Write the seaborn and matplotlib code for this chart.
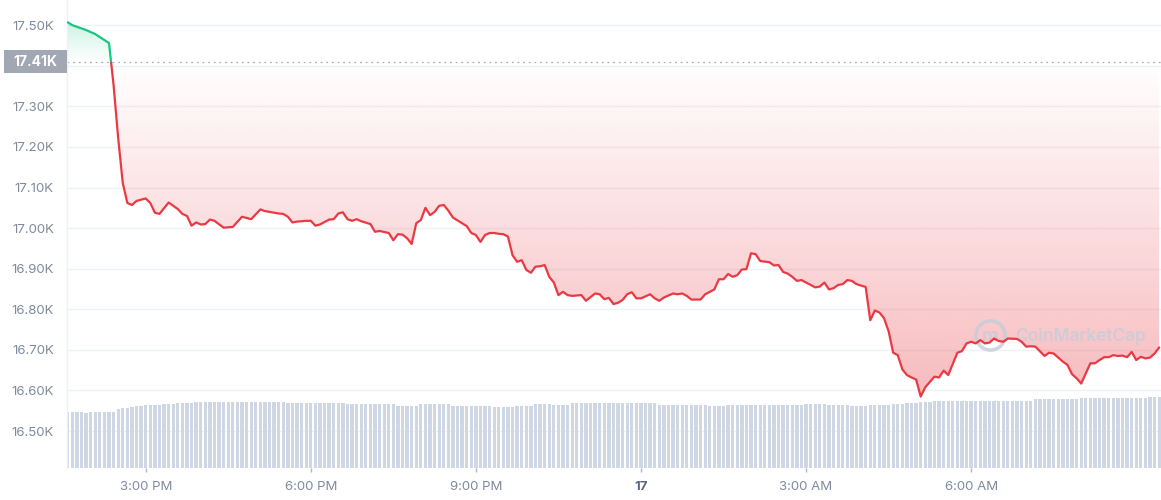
import numpy as np
import matplotlib
matplotlib.use("Agg")
import matplotlib.pyplot as plt
import seaborn as sns
from matplotlib import transforms
from matplotlib.patches import Rectangle

# ---------------- data ----------------
# index of the 5-minute candle after 13:35 (Nov 16)
slot5 = [0, 1, 4, 6, 9, 10, 11, 12, 13, 14, 15, 17, 18, 19, 20, 22, 24, 25, 26, 27,
         28, 29, 30, 31, 32, 34, 36, 38, 40, 42, 43, 44, 46, 47, 48, 49, 50, 52, 53, 54,
         55, 57, 58, 59, 60, 61, 62, 63, 64, 66, 67, 68, 70, 71, 72, 73, 74, 75, 76, 77,
         78, 79, 80, 81, 82, 83, 84, 87, 88, 89, 90, 91, 92, 93, 94, 95, 96, 97, 98, 99,
         100, 101, 102, 103, 104, 105, 106, 107, 108, 109, 110, 112, 113, 115, 116, 117, 118, 119, 120, 121,
         122, 123, 124, 125, 127, 128, 129, 130, 132, 133, 134, 135, 136, 138, 139, 141, 142, 143, 144, 145,
         146, 147, 148, 149, 150, 151, 153, 154, 155, 156, 157, 158, 159, 160, 162, 163, 164, 165, 166, 167,
         168, 169, 170, 171, 172, 174, 175, 176, 177, 178, 179, 180, 181, 182, 183, 184, 185, 186, 187, 189,
         190, 191, 192, 194, 195, 196, 197, 198, 199, 200, 201, 202, 203, 204, 205, 207, 208, 209, 210, 211,
         213, 214, 215, 217, 218, 219, 220, 221, 222, 223, 224, 225, 226, 227, 228, 229, 230, 231, 232, 233,
         234, 235, 236, 237, 238]

price = [17507, 17500, 17488, 17478, 17456, 17352, 17222, 17111, 17062, 17057, 17067, 17073, 17062, 17038, 17035, 17063, 17047, 17035, 17030, 17006,
         17014, 17009, 17010, 17021, 17018, 17001, 17003, 17028, 17022, 17046, 17042, 17040, 17036, 17035, 17028, 17014, 17016, 17018, 17018, 17006,
         17009, 17021, 17022, 17036, 17039, 17022, 17018, 17022, 17017, 17010, 16991, 16993, 16988, 16970, 16985, 16984, 16975, 16961, 17012, 17020,
         17050, 17032, 17040, 17055, 17057, 17043, 17026, 17005, 16988, 16983, 16966, 16983, 16988, 16988, 16986, 16985, 16979, 16933, 16917, 16921,
         16897, 16890, 16905, 16906, 16909, 16880, 16866, 16835, 16843, 16835, 16833, 16835, 16821, 16839, 16837, 16825, 16828, 16813, 16816, 16823,
         16837, 16842, 16827, 16827, 16837, 16827, 16821, 16829, 16839, 16837, 16839, 16833, 16824, 16824, 16837, 16849, 16874, 16874, 16887, 16880,
         16884, 16898, 16899, 16938, 16936, 16919, 16916, 16908, 16909, 16892, 16888, 16880, 16870, 16872, 16860, 16854, 16856, 16866, 16849, 16852,
         16860, 16862, 16872, 16870, 16862, 16855, 16773, 16797, 16792, 16778, 16746, 16693, 16687, 16652, 16638, 16632, 16627, 16585, 16608, 16634,
         16632, 16649, 16638, 16693, 16697, 16716, 16720, 16716, 16724, 16716, 16718, 16728, 16722, 16720, 16728, 16727, 16720, 16708, 16709, 16708,
         16685, 16693, 16691, 16671, 16663, 16640, 16630, 16617, 16642, 16667, 16667, 16675, 16682, 16682, 16687, 16685, 16686, 16682, 16695, 16675,
         16683, 16679, 16681, 16691, 16706]

# volume per 5-minute candle (billion USD)
volume = [31.0, 31.0, 31.0, 31.0, 30.4, 31.0, 31.0, 31.0, 31.0, 31.0, 31.0, 32.5,
          32.8, 32.8, 33.7, 34.3, 34.3, 34.7, 34.7, 34.7, 34.7, 35.0, 35.0, 35.0,
          35.6, 35.6, 35.6, 35.6, 36.1, 36.1, 36.1, 36.1, 36.1, 36.1, 36.1, 36.1,
          36.1, 36.1, 36.1, 36.1, 36.1, 36.1, 36.1, 36.1, 36.1, 36.1, 36.1, 36.1,
          35.6, 35.6, 35.6, 35.6, 35.6, 35.6, 35.6, 35.6, 35.6, 35.6, 35.6, 35.6,
          35.6, 35.0, 35.0, 35.0, 35.0, 35.0, 35.0, 35.0, 35.0, 35.0, 35.0, 35.0,
          34.3, 34.3, 34.3, 34.3, 34.3, 35.0, 35.0, 35.0, 35.0, 35.0, 35.0, 35.0,
          34.3, 34.3, 34.3, 34.3, 34.3, 34.3, 34.3, 34.3, 34.3, 33.7, 33.7, 33.7,
          33.7, 33.7, 34.3, 34.3, 34.3, 34.3, 35.0, 35.0, 35.0, 35.0, 34.7, 34.7,
          34.7, 34.7, 35.6, 35.6, 35.6, 35.6, 35.6, 35.6, 35.6, 35.6, 35.6, 35.6,
          35.6, 35.6, 35.6, 35.6, 35.6, 35.6, 35.6, 35.6, 35.6, 34.7, 34.7, 34.7,
          34.7, 34.7, 34.7, 34.7, 34.7, 34.7, 34.7, 34.7, 34.1, 34.1, 34.1, 34.1,
          34.7, 34.7, 34.7, 34.7, 34.7, 34.7, 34.7, 34.7, 34.7, 34.7, 34.7, 34.7,
          34.7, 34.7, 34.7, 34.7, 34.7, 35.0, 35.0, 35.0, 35.0, 35.0, 34.7, 34.7,
          34.7, 34.7, 34.7, 34.1, 34.1, 34.1, 34.1, 34.7, 34.7, 34.7, 34.7, 34.7,
          35.4, 35.4, 35.4, 35.9, 35.9, 35.9, 36.5, 36.5, 36.5, 37.0, 37.0, 37.0,
          37.0, 37.0, 37.0, 37.0, 37.0, 37.0, 37.0, 37.0, 37.0, 37.0, 37.0, 37.0,
          37.0, 37.0, 37.0, 37.0, 37.0, 37.0, 37.0, 37.8, 37.8, 37.8, 37.8, 37.8,
          37.8, 37.8, 37.8, 37.8, 37.8, 38.3, 38.3, 38.3, 38.3, 38.3, 38.3, 38.3,
          38.3, 38.3, 38.3, 38.3, 38.3, 38.3, 38.3, 38.3, 38.9, 38.9, 38.9]

baseline = 17410
y_ticks = [16500, 16600, 16700, 16800, 16900, 17000, 17100, 17200, 17300, 17400, 17500]
x_tick_minutes = [85, 265, 445, 625, 805, 985]
x_tick_labels = ["3:00 PM", "6:00 PM", "9:00 PM", "17", "3:00 AM", "6:00 AM"]

# ---------------- style ----------------
sns.set_theme(style="white")
plt.rcParams["font.family"] = ["Inter", "DejaVu Sans"]

RED = "#ea3943"
GREEN = "#16c784"
GRID = "#eff2f5"
LABEL = "#808a9d"
BAR = "#cfd6e4"

W, H = 1161, 500
fig = plt.figure(figsize=(W / 100, H / 100), dpi=100)
rect = [67 / W, 32 / H, 1 - 67 / W, 468 / H]

t = np.array(slot5) * 5.0
p = np.array(price, dtype=float)
tv = np.arange(len(volume)) * 5.0

XL = (-0.8, 1192)
YL = (16409, 17562)

# volume axes (bottom layer)
ax_v = fig.add_axes(rect, zorder=0)
ax_v.set_facecolor("white")
sns.barplot(x=tv, y=volume, native_scale=True, color=BAR, saturation=1,
            width=0.72, linewidth=0, ax=ax_v)
ax_v.set_xlim(*XL)
ax_v.set_ylim(0, 257)
ax_v.set_xticks([])
ax_v.set_yticks([])
for s in ax_v.spines.values():
    s.set_visible(False)

# price axes (top layer)
ax = fig.add_axes(rect, zorder=1)
ax.patch.set_alpha(0)
ax.set_xlim(*XL)
ax.set_ylim(*YL)

# horizontal grid drawn on volume axes (so bars sit above it)
gtrans = transforms.blended_transform_factory(ax_v.transAxes, ax.transData)
for v in y_ticks:
    ax_v.plot([0, 1], [v, v], color=GRID, lw=1, transform=gtrans, zorder=0)

# gradient fill between line and baseline
ny = 400
yy = np.linspace(YL[0], YL[1], ny)
img = np.zeros((ny, 1, 4))
below = yy < baseline
rc = matplotlib.colors.to_rgb(RED)
gc = matplotlib.colors.to_rgb(GREEN)
img[below, 0, :3] = rc
img[below, 0, 3] = 0.42 * (baseline - yy[below]) / (baseline - YL[0])
img[~below, 0, :3] = gc
img[~below, 0, 3] = np.clip((yy[~below] - baseline) / 100.0, 0, 1) * 0.22
poly = ax.fill_between(t, p, baseline, facecolor="none", edgecolor="none")
im = ax.imshow(img, extent=[XL[0], XL[1], YL[0], YL[1]], origin="lower",
               aspect="auto", interpolation="bilinear", zorder=1)
im.set_clip_path(poly.get_paths()[0], ax.transData)
ax.set_xlim(*XL)
ax.set_ylim(*YL)

# watermark
ax.plot([0.8437], [0.284], marker="o", markersize=21, fillstyle="none",
        markeredgewidth=2.6, color="#c5cdda", alpha=0.8, transform=ax.transAxes, zorder=2)
ax.text(0.8437, 0.281, "m", transform=ax.transAxes, ha="center", va="center",
        fontsize=13, fontweight="bold", color="#c5cdda", alpha=0.8, zorder=2)
ax.text(0.8665, 0.281, "CoinMarketCap", transform=ax.transAxes, ha="left", va="center",
        fontsize=12.5, fontweight="semibold", color="#c5cdda", alpha=0.8, zorder=2)

# baseline (dotted)
ax.axhline(baseline, color="#a9afba", lw=0.9, ls=(0, (1.5, 3)), zorder=2)

# price line: red below baseline, green above
sns.lineplot(x=t, y=p, color=RED, lw=1.6, estimator=None, sort=False, ax=ax)
red_line = ax.lines[-1]
red_line.set_zorder(3)
red_line.set_clip_path(Rectangle((XL[0], YL[0] - 50), XL[1] - XL[0], baseline - YL[0] + 50,
                                 transform=ax.transData))
sns.lineplot(x=t, y=p, color=GREEN, lw=1.6, estimator=None, sort=False, ax=ax)
green_line = ax.lines[-1]
green_line.set_zorder(3)
green_line.set_clip_path(Rectangle((XL[0], baseline), XL[1] - XL[0], YL[1] - baseline + 50,
                                   transform=ax.transData))

# axes styling
for name, s in ax.spines.items():
    s.set_visible(name == "left")
ax.spines["left"].set_color("#eef0f3")
ax.spines["left"].set_linewidth(1)

# tick labels (the one hidden by the current-price tag is left blank)
ax.set_yticks(y_ticks)
ax.set_yticklabels(["" if abs(v - baseline) < 40 else f"{v / 1000:.2f}K" for v in y_ticks])
ax.tick_params(axis="y", length=0, pad=9.5, labelsize=9.5, labelcolor=LABEL)

ax.set_xticks(x_tick_minutes)
ax.set_xticklabels(x_tick_labels)
ax.tick_params(axis="x", length=3, width=1, color="#b0b6c1", direction="out",
               pad=6.5, labelsize=9.5, labelcolor=LABEL)
for lbl in ax.get_xticklabels():
    if lbl.get_text() == "17":
        lbl.set_fontweight("bold")
        lbl.set_color("#58667e")
ax.xaxis.set_tick_params(bottom=True)
ax.set_xlabel("")
ax.set_ylabel("")

# current-price tag on the axis
btrans = transforms.blended_transform_factory(ax.transAxes, ax.transData)
tag_h = 23 * (YL[1] - YL[0]) / 468
ax.add_patch(Rectangle((-63 / 1094, baseline - tag_h / 2), 63 / 1094, tag_h,
                       transform=btrans, facecolor="#a1a7b3", edgecolor="none",
                       clip_on=False, zorder=5))
ax.text(-31.5 / 1094, baseline, f"{baseline / 1000:.2f}K", transform=btrans,
        ha="center", va="center", color="white", fontsize=10, fontweight="bold",
        zorder=6, clip_on=False)

fig.savefig("out.png", dpi=100)
